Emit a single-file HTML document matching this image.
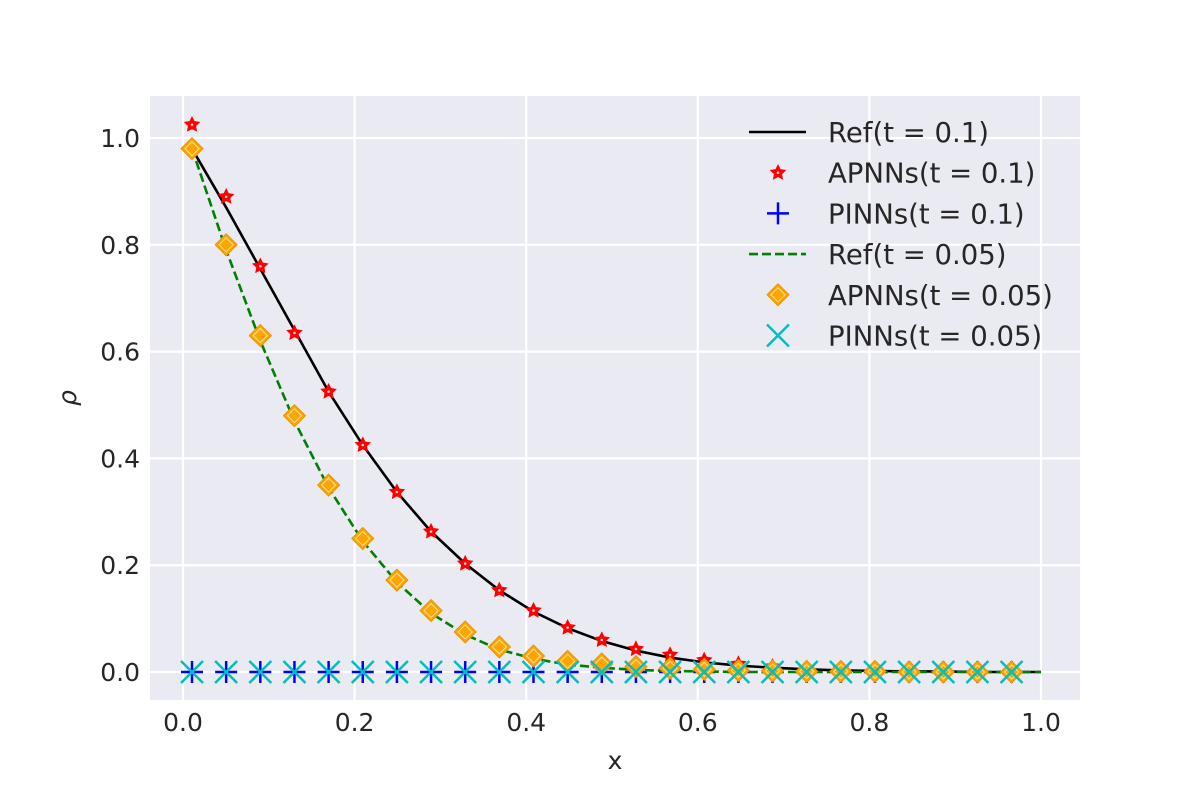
<!DOCTYPE html>
<html><head><meta charset="utf-8"><style>
body{margin:0;background:#fff;}
text{font-family:"DejaVu Sans","Liberation Sans",sans-serif;fill:#262626;}
</style></head><body>
<svg id="chart" width="1200" height="800" xmlns="http://www.w3.org/2000/svg">
<rect x="150" y="96" width="930" height="604" fill="#eaeaf2"/>
<g id="grid"></g><g id="ticks"></g><g id="series"></g><g id="legend"></g>
<text x="615" y="769" font-size="25" text-anchor="middle">x</text>
<text x="76" y="398" font-size="25" text-anchor="middle" font-style="italic" transform="rotate(-90 76 398)">ρ</text>
</svg>
<script>
const xs = [0.0105,0.0503,0.0901,0.1299,0.1697,0.2095,0.2493,0.2891,0.3289,0.3687,0.4085,0.4483,0.4881,0.5279,0.5677,0.6075,0.6473,0.6871,0.7269,0.7667,0.8065,0.8463,0.8861,0.9259,0.9657];
const apnn01 = [1.025,0.89,0.76,0.635,0.525,0.425,0.337,0.263,0.203,0.153,0.115,0.083,0.06,0.043,0.032,0.022,0.015,0.01,0.007,0.005,0.003,0.002,0.002,0.001,0.001];
const apnn005 = [0.98,0.80,0.63,0.48,0.35,0.25,0.172,0.115,0.075,0.047,0.03,0.02,0.015,0.01,0.007,0.005,0.003,0.002,0.001,0.001,0.001,0,0,0,0];
const pinn01 = [0,0,0,0,0,0,0,0,0,0,0,0,0,0,0,0,0,0,0,0,0,0,0,0,0];
const pinn005 = [0,0,0,0,0,0,0,0,0,0,0,0,0,0,0,0,0,0,0,0,0,0,0,0,0];
const refX = [0.0105,0.0503,0.0901,0.1299,0.1697,0.2095,0.2493,0.2891,0.3289,0.3687,0.4085,0.4483,0.4881,0.5279,0.5677,0.6075,0.6473,0.6871,0.7269,0.7667,0.8065,0.8463,0.8861,0.9259,0.9657,1.0];
const ref01 = [0.98,0.87,0.755,0.64,0.525,0.425,0.337,0.263,0.203,0.153,0.113,0.082,0.058,0.04,0.027,0.018,0.012,0.008,0.005,0.003,0.002,0.001,0.001,0,0,0];
const ref005 = [0.98,0.79,0.62,0.47,0.345,0.245,0.168,0.11,0.07,0.042,0.025,0.014,0.008,0.004,0.002,0.001,0,0,0,0,0,0,0,0,0,0];
const xTicks = [0,0.2,0.4,0.6,0.8,1.0];
const xTickLabels = ["0.0","0.2","0.4","0.6","0.8","1.0"];
const yTicks = [0,0.2,0.4,0.6,0.8,1.0];
const yTickLabels = ["0.0","0.2","0.4","0.6","0.8","1.0"];
const NS="http://www.w3.org/2000/svg";
const X=v=>183+v*858, Y=v=>672-v*534;
function mk(tag,attrs,parent){const e=document.createElementNS(NS,tag);for(const k in attrs)e.setAttribute(k,attrs[k]);parent.appendChild(e);return e;}
const grid=document.getElementById('grid'),ticks=document.getElementById('ticks'),ser=document.getElementById('series'),leg=document.getElementById('legend');
xTicks.forEach((t,i)=>{let l=mk('line',{x1:X(t),x2:X(t),y1:96,y2:700,stroke:'#fff','stroke-width':2.2},grid);

let tx=mk('text',{x:X(t),y:731,'font-size':25,'text-anchor':'middle'},ticks);tx.textContent=xTickLabels[i];
});
yTicks.forEach((t,i)=>{let l=mk('line',{x1:150,x2:1080,y1:Y(t),y2:Y(t),stroke:'#fff','stroke-width':2.2},grid);

let tx=mk('text',{x:140,y:Y(t)+9,'font-size':25,'text-anchor':'end'},ticks);tx.textContent=yTickLabels[i];
});
function star(cx,cy,r){let p=[];for(let i=0;i<10;i++){const a=-Math.PI/2+i*Math.PI/5,rr=i%2?r*0.5:r;p.push((cx+rr*Math.cos(a)).toFixed(1)+','+(cy+rr*Math.sin(a)).toFixed(1));}return p.join(' ');}
function drawStar(g,cx,cy){let s=mk('polygon',{points:star(cx,cy,7),fill:'red',stroke:'red','stroke-width':1.5},g);mk('circle',{cx:cx,cy:cy,r:1.3,fill:'#fcc'},g);}
function drawDiamond(g,cx,cy){let d=mk('polygon',{points:`${cx},${cy-11} ${cx+11},${cy} ${cx},${cy+11} ${cx-11},${cy}`,fill:'orange',stroke:'#e69500','stroke-width':1},g);
mk('polygon',{points:`${cx},${cy-7} ${cx+7},${cy} ${cx},${cy+7} ${cx-7},${cy}`,fill:'none',stroke:'#ffe0a0','stroke-width':1},g);}
function drawPlus(g,cx,cy){let p=mk('path',{d:`M${cx-11},${cy}H${cx+11}M${cx},${cy-11}V${cy+11}`,stroke:'blue','stroke-width':2.5,fill:'none'},g);}
function drawX(g,cx,cy){let p=mk('path',{d:`M${cx-11},${cy-11}L${cx+11},${cy+11}M${cx+11},${cy-11}L${cx-11},${cy+11}`,stroke:'#00bfbf','stroke-width':2.5,fill:'none'},g);}
let l1=mk('polyline',{points:refX.map((x,i)=>X(x)+','+Y(ref01[i])).join(' '),fill:'none',stroke:'#000','stroke-width':2.6},ser);

xs.forEach((x,i)=>drawStar(ser,X(x),Y(apnn01[i])));
xs.forEach((x,i)=>drawPlus(ser,X(x),Y(pinn01[i])));
let l2=mk('polyline',{points:refX.map((x,i)=>X(x)+','+Y(ref005[i])).join(' '),fill:'none',stroke:'green','stroke-width':2.6,'stroke-dasharray':'9,4'},ser);

xs.forEach((x,i)=>drawDiamond(ser,X(x),Y(apnn005[i])));
xs.forEach((x,i)=>drawX(ser,X(x),Y(pinn005[i])));
const legLabels=["Ref(t = 0.1)","APNNs(t = 0.1)","PINNs(t = 0.1)","Ref(t = 0.05)","APNNs(t = 0.05)","PINNs(t = 0.05)"];
legLabels.forEach((lab,i)=>{const y=132+i*40.7,g=mk('g',{},leg);
const cx=778;
if(i==0)mk('line',{x1:749,x2:806,y1:y,y2:y,stroke:'#000','stroke-width':2.6},g);
if(i==1)drawStar(g,cx,y);
if(i==2)drawPlus(g,cx,y);
if(i==3)mk('line',{x1:749,x2:806,y1:y,y2:y,stroke:'green','stroke-width':2.6,'stroke-dasharray':'9,4'},g);
if(i==4)drawDiamond(g,cx,y);
if(i==5)drawX(g,cx,y);
const t=mk('text',{x:828,y:y+10,'font-size':27.5},g);t.textContent=lab;});
</script>
</body></html>
